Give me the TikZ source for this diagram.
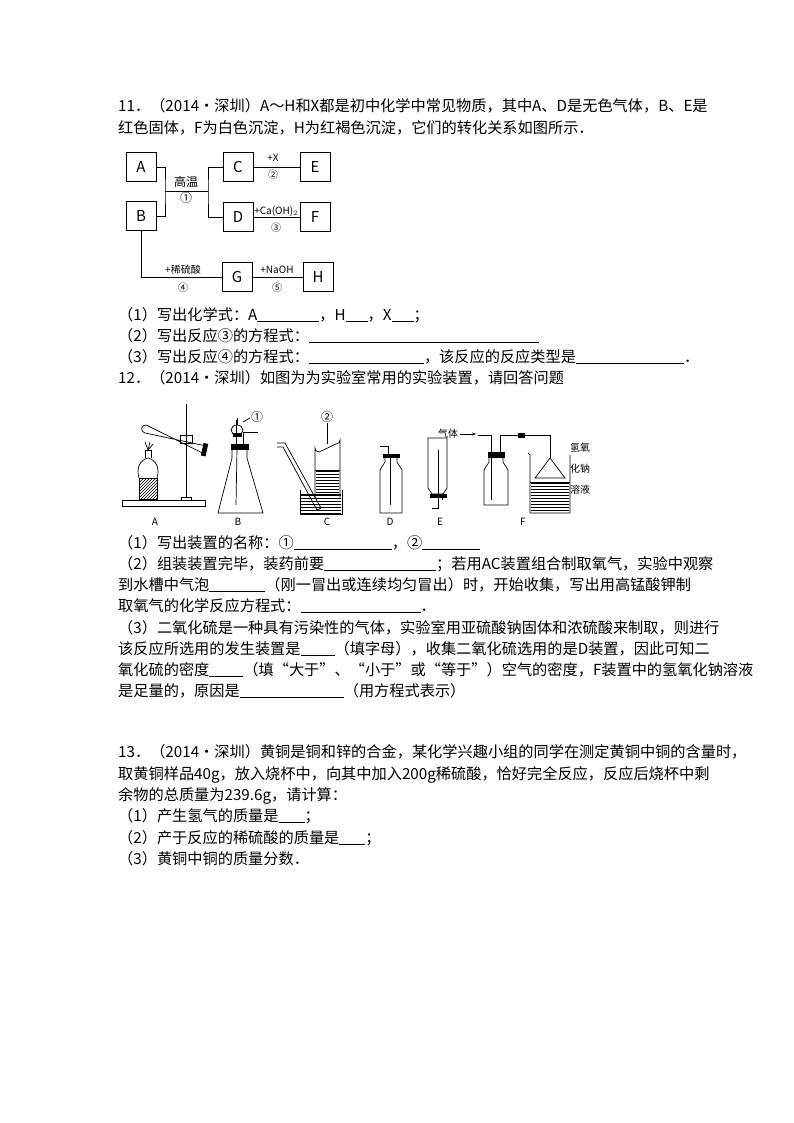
\documentclass[tikz,border=0pt]{standalone}
\usepackage{fontspec}
\setmainfont{Noto Sans CJK SC}
\usetikzlibrary{patterns,arrows.meta}
\newcommand{\bl}[1]{\underline{\hspace{#1pt}}}
\begin{document}
\begin{tikzpicture}[x=1pt,y=-1pt,
  txt/.style={anchor=base west,inner sep=0,font=\fontsize{15.2}{16}\selectfont},
  bx/.style={draw,minimum width=30,minimum height=29,inner sep=0,font=\fontsize{15}{16}\selectfont},
  sm/.style={font=\fontsize{10}{12}\selectfont,inner sep=0},
  ln/.style={line width=0.6pt},
  app/.style={line width=0.7pt}]
\useasboundingbox (0,0) rectangle (794,1123);
% ---- Q11 text
\node[txt] (t1) at (118,112) {11．（2014•深圳）A～H和X都是初中化学中常见物质，其中A、D是无色气体，B、E是};
\node[txt] (t2) at (118,134) {红色固体，F为白色沉淀，H为红褐色沉淀，它们的转化关系如图所示．};
% ---- flowchart
\node[bx] (A) at (141,167) {A};
\node[bx] (B) at (141,216) {B};
\node[bx] (C) at (238,167) {C};
\node[bx] (D) at (238,217) {D};
\node[bx] (E) at (315,167) {E};
\node[bx] (F) at (315,217) {F};
\node[bx] (G) at (237,277) {G};
\node[bx] (H) at (318,277) {H};
\coordinate (j1) at (165,191);
\coordinate (j2) at (208,191);
\draw[ln] (A.east) -| (j1) |- (B.east);
\draw[ln] (j1) -- (j2);
\draw[ln] (C.west) -| (j2) |- (D.west);
\draw[ln] (C) -- (E);
\draw[ln] (D) -- (F);
\draw[ln] (B.south) |- (G.west);
\draw[ln] (G) -- (H);
\node[sm,font=\fontsize{12}{12}\selectfont] (l1) at (186,182) {高温};
\node[sm,font=\fontsize{12}{12}\selectfont] (c1) at (186,198) {①};
\node[sm] (l2) at (273,158) {+X};
\node[sm] (c2) at (273,175) {②};
\node[sm] (l3) at (276,211) {+Ca(OH)$_2$};
\node[sm] (c3) at (276,228) {③};
\node[sm] (l4) at (183,270) {+稀硫酸};
\node[sm] (c4) at (183,288) {④};
\node[sm] (l5) at (277,270) {+NaOH};
\node[sm] (c5) at (277,288) {⑤};
% ---- Q11 questions
\node[txt] (q1) at (118,320) {（1）写出化学式：A\bl{62}，H\bl{22}，X\bl{22}；};
\node[txt] (q2) at (118,341) {（2）写出反应③的方程式：\bl{230}};
\node[txt] (q3) at (118,362) {（3）写出反应④的方程式：\bl{115}，该反应的反应类型是\bl{108}．};
\node[txt] (t12) at (118,383) {12．（2014•深圳）如图为为实验室常用的实验装置，请回答问题};
% ---- apparatus A
\draw[app] (122,500) rectangle (205,506);
\draw[app] (186,404) -- (186,497);
\draw[app] (181,497) -- (191,497) -- (191,500) -- (181,500) -- cycle;
\draw[app,pattern=north east lines] (139,478) rectangle (157,499);
\draw[app] (139,478) .. controls (136,468) and (140,460) .. (148,458) .. controls (156,460) and (160,468) .. (157,478);
\draw[app] (145,458) -- (145,450) -- (151,450) -- (151,458);
\draw[app] (148,450) -- (145,442) (148,450) -- (150,442) (148,450) -- (153,444);
\draw[app,rotate around={-12:(140,436)}] (206,432) -- (144,432) arc (90:270:4) -- (206,440);
\draw[app,fill=black,rotate around={-12:(140,436)}] (204,430) rectangle (208,442);
\draw[app] (180,435) rectangle (192,443);
\node[sm] (la) at (155,522) {A};
% ---- B
\draw[app] (232,445) -- (232,458) -- (218,513) -- (263,513) -- (247,458) -- (247,445);
\draw[app,fill=black] (231,444) rectangle (248,449);
\draw[app] (236,444) -- (236,420);
\draw[app] (237,430) ellipse (6 and 5);
\draw[app] (237,425) -- (237,418);
\draw[app,fill=black] (233,433) rectangle (241,436);
\draw[app] (243,444) -- (243,432) -- (258,432);
\draw[app] (237,449) -- (236,505);
\draw[app] (243,422) -- (250,418);
\node[sm,font=\fontsize{12}{12}\selectfont] (lb1) at (257,417) {①};
\node[sm] (lb) at (238,522) {B};
% ---- C
\draw[app] (300,490) -- (300,514) -- (342,514) -- (342,490);
\fill[pattern=horizontal lines] (301,494) rectangle (341,513);
\draw[app] (301,494) -- (341,494);
\draw[app] (315,498) -- (315,448) arc (180:90:4) -- (336,444) arc (90:0:4) -- (340,498);
\fill[pattern=horizontal lines] (316,470) rectangle (339,498);
\draw[app] (315,470) -- (340,470);
\draw[app] (277,443) -- (285,443) -- (321,508) -- (317,510) -- (283,447) -- (277,447);
\node[sm,font=\fontsize{12}{12}\selectfont] (lc2) at (327,417) {②};
\draw[app] (327,423) -- (327,444);
\node[sm] (lc) at (327,522) {C};
% ---- D
\draw[app] (380,513) -- (380,470) -- (385,462) -- (385,456) -- (397,456) -- (397,462) -- (402,470) -- (402,513) -- cycle;
\draw[app,fill=black] (383,454) rectangle (399,457);
\draw[app] (390,454) -- (390,505);
\draw[app] (388,454) -- (388,446) -- (380,446);
\node[sm] (ld) at (390,522) {D};
\draw[app] (428,438) -- (447,438) -- (447,488) -- (443,494) -- (432,494) -- (428,488) -- cycle;
\draw[app,fill=black] (430,494) rectangle (446,497);
\draw[app] (438,450) -- (438,508) -- (432,508);
\draw[app] (442,494) -- (442,500);
\node[sm] (le) at (440,522) {E};
% ---- F
\draw[app] (484,505) -- (484,470) -- (489,462) -- (489,456) -- (503,456) -- (503,462) -- (508,470) -- (508,505) -- cycle;
\draw[app,fill=black] (488,452) rectangle (504,457);
\draw[app] (491,452) -- (491,500);
\draw[app] (491,452) -- (491,435) -- (478,435);
\draw[app] (500,452) -- (500,435) -- (550,435) -- (550,458);
\draw[app,fill=black] (518,433) rectangle (524,437);
\draw[app] (528,453) -- (530,455) -- (530,513) -- (570,513) -- (570,455);
\fill[pattern=horizontal lines] (531,482) rectangle (569,512);
\draw[app] (530,482) -- (570,482);
\draw[app] (550,458) -- (535,478) -- (565,478) -- cycle;
\node[sm] (gas) at (448,434) {气体};
\coordinate (gs) at (460,434);
\draw[app,-{Stealth[length=4pt]}] (gs) -- (476,434);
\node[sm] (nl1) at (580,448) {氢氧};
\node[sm] (nl2) at (580,469) {化钠};
\node[sm] (nl3) at (580,490) {溶液};
\node[sm] (lf) at (523,522) {F};
% ---- Q12 text
\node[txt] (p1) at (118,548) {（1）写出装置的名称：①\bl{98}，②\bl{58}};
\node[txt] (p2) at (118,569) {（2）组装装置完毕，装药前要\bl{112}；若用AC装置组合制取氧气，实验中观察};
\node[txt] (p3) at (118,590) {到水槽中气泡\bl{56}（刚一冒出或连续均匀冒出）时，开始收集，写出用高锰酸钾制};
\node[txt] (p4) at (118,611) {取氧气的化学反应方程式：\bl{120}．};
\node[txt] (p5) at (118,633) {（3）二氧化硫是一种具有污染性的气体，实验室用亚硫酸钠固体和浓硫酸来制取，则进行};
\node[txt] (p6) at (118,654) {该反应所选用的发生装置是\bl{34}（填字母），收集二氧化硫选用的是D装置，因此可知二};
\node[txt] (p7) at (118,675) {氧化硫的密度\bl{34}（填“大于”、“小于”或“等于”）空气的密度，F装置中的氢氧化钠溶液};
\node[txt] (p8) at (118,696) {是足量的，原因是\bl{104}（用方程式表示）};
% ---- Q13
\node[txt] (r1) at (118,757) {13．（2014•深圳）黄铜是铜和锌的合金，某化学兴趣小组的同学在测定黄铜中铜的含量时，};
\node[txt] (r2) at (118,779) {取黄铜样品40g，放入烧杯中，向其中加入200g稀硫酸，恰好完全反应，反应后烧杯中剩};
\node[txt] (r3) at (118,800) {余物的总质量为239.6g，请计算：};
\node[txt] (r4) at (118,821) {（1）产生氢气的质量是\bl{26}；};
\node[txt] (r5) at (118,843) {（2）产于反应的稀硫酸的质量是\bl{26}；};
\node[txt] (r6) at (118,864) {（3）黄铜中铜的质量分数．};
\end{tikzpicture}
\end{document}
